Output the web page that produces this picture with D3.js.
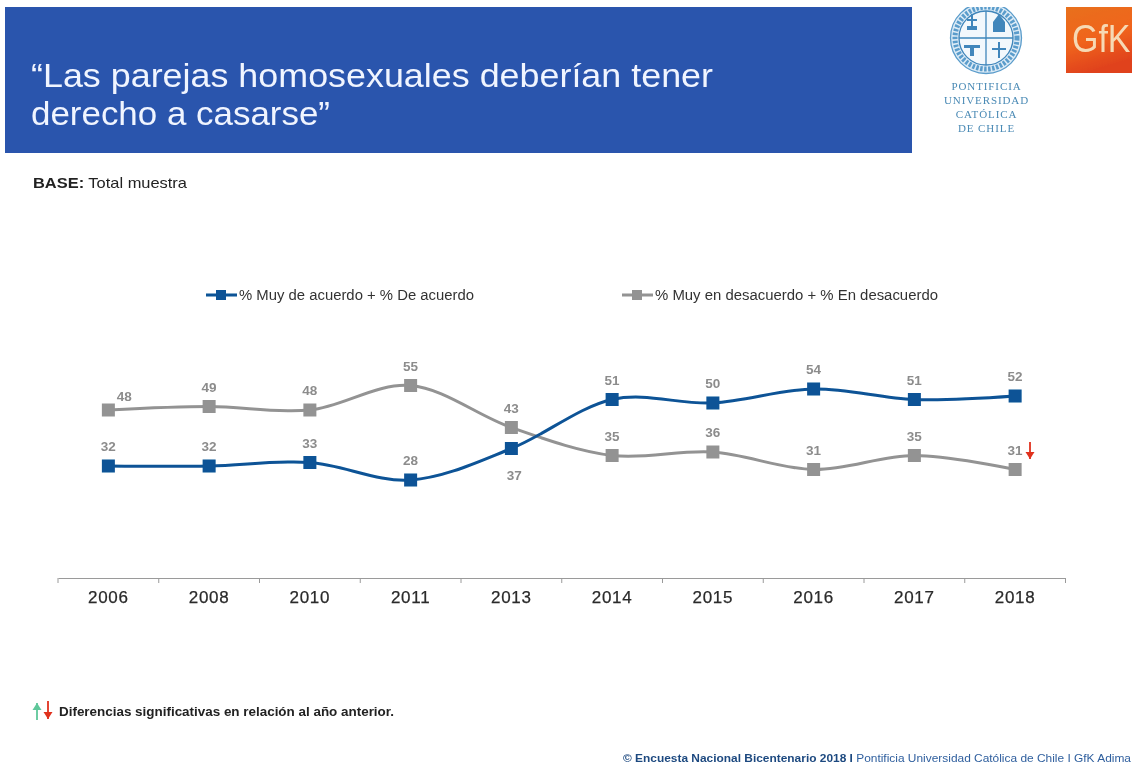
<!DOCTYPE html>
<html><head><meta charset="utf-8">
<script src="https://cdnjs.cloudflare.com/ajax/libs/d3/7.8.5/d3.min.js"></script>
<style>html,body{margin:0;padding:0;background:#fff;overflow:hidden}svg{display:block}text{font-family:"Liberation Sans",Arial,sans-serif}</style>
</head><body><svg id="c" width="1132" height="767"></svg>
<script>
const years=["2006","2008","2010","2011","2013","2014","2015","2016","2017","2018"];
const agree=[32,32,33,28,37,51,50,54,51,52];
const disagree=[48,49,48,55,43,35,36,31,35,31];
const agreeName="% Muy de acuerdo + % De acuerdo";
const disagreeName="% Muy en desacuerdo + % En desacuerdo";
const titleLines=["“Las parejas homosexuales deberían tener","derecho a casarse”"];
const logoLines=["PONTIFICIA","UNIVERSIDAD","CATÓLICA","DE CHILE"];
const blue="#0a5296",grey="#939393",labelGrey="#8c8c8c";

const svg0=d3.select("#c");
const defs=svg0.append("defs");
const g=defs.append("linearGradient").attr("id","gfk").attr("x1",0).attr("y1",0).attr("x2",.3).attr("y2",1);
g.append("stop").attr("offset",0).attr("stop-color","#e8701f");
g.append("stop").attr("offset",.55).attr("stop-color","#f0641a");
g.append("stop").attr("offset",1).attr("stop-color","#e0421a");
defs.append("filter").attr("id","soft").attr("filterUnits","userSpaceOnUse")
  .attr("x",0).attr("y",0).attr("width",1132).attr("height",767)
  .append("feGaussianBlur").attr("stdDeviation",.42);
const svg=svg0.append("g").attr("filter","url(#soft)");

// header
svg.append("rect").attr("x",5).attr("y",7).attr("width",907).attr("height",146).attr("fill","#2c54ad");
const titleLen=[682,299];
svg.append("g").selectAll("text").data(titleLines).join("text")
  .attr("x",31).attr("y",(d,i)=>87+i*37.5).attr("fill","#f0f5ff").attr("font-size",34)
  .attr("textLength",(d,i)=>titleLen[i]).attr("lengthAdjust","spacingAndGlyphs").text(d=>d);

// UC logo
const cx=986,cy=38,logoBlue="#5a9ccb",logoDark="#3f86bb";
const lg=svg.append("g");
lg.append("circle").attr("cx",cx).attr("cy",cy).attr("r",35.5).attr("fill","#dcebf6").attr("stroke",logoBlue).attr("stroke-width",1.3);
lg.append("circle").attr("cx",cx).attr("cy",cy).attr("r",31).attr("fill","none").attr("stroke",logoBlue).attr("stroke-width",5).attr("stroke-dasharray","2.5 1.5");
lg.append("circle").attr("cx",cx).attr("cy",cy).attr("r",27).attr("fill","#f2f8fc").attr("stroke",logoDark).attr("stroke-width",1.3);
lg.append("path").attr("d",`M${cx} ${cy-27}V${cy+27}M${cx-27} ${cy}H${cx+27}`).attr("stroke",logoDark).attr("stroke-width",1.3);
const quad=[[-14,-14],[13,-14],[-14,13],[13,13]];
lg.append("g").selectAll("path").data(quad).join("path")
  .attr("transform",d=>`translate(${cx+d[0]},${cy+d[1]})`)
  .attr("fill",logoDark)
  .attr("d",(d,i)=>["M-1-10h2v5h4v2h-4v5h4v4h-10v-4h4v-5h-4v-2h4z","M0-10l6 8v10h-12v-10z","M-8-6h16v3h-6v8h-4v-8h-6z","M-1-9h2v6h6v2h-6v8h-2v-8h-6v-2h6z"][i]);
svg.append("rect").attr("x",940).attr("y",0).attr("width",92).attr("height",7).attr("fill","#fff");
svg.append("g").selectAll("text").data(logoLines).join("text")
  .attr("x",986.5).attr("y",(d,i)=>89.5+i*14).attr("text-anchor","middle").attr("fill","#4a8ab5")
  .attr("font-size",11).attr("letter-spacing",.9).style("font-family","'Liberation Serif',serif").text(d=>d);

// GfK logo
svg.append("rect").attr("x",1066).attr("y",7).attr("width",66).attr("height",66).attr("fill","url(#gfk)");
svg.append("text").attr("transform","translate(1072,52) scale(1,1.12)").attr("font-size",34).attr("fill","#f6d9b4").text("GfK");

// base
const base=svg.append("text").attr("x",33).attr("y",188).attr("font-size",14.5).attr("fill","#222")
  .attr("textLength",154).attr("lengthAdjust","spacingAndGlyphs");
base.append("tspan").attr("font-weight","bold").text("BASE:");
base.append("tspan").text(" Total muestra");

// scales
const x=d3.scaleBand().domain(years).range([58,1065.5]);
const y=d3.scaleLinear().domain([0,60]).range([578,368]);
const px=(d)=>x(d)+x.bandwidth()/2;

// axis
const axis=svg.append("g").attr("transform","translate(0,578)")
  .call(d3.axisBottom(x).tickSize(0).tickPadding(13));
axis.select(".domain").attr("stroke","#9a9a9a").attr("stroke-width",1.2);
axis.selectAll("text").attr("font-size",17).attr("letter-spacing",.7).attr("fill","#2a2a2a")
  .attr("stroke","#2a2a2a").attr("stroke-width",.25).style("font-family","'Liberation Sans',Arial,sans-serif");
svg.append("g").selectAll("line").data(x.domain().map(d=>x(d)).concat([x.range()[1]])).join("line")
  .attr("x1",d=>d).attr("x2",d=>d).attr("y1",578).attr("y2",583).attr("stroke","#9a9a9a");

// series
const line=d3.line().x((d,i)=>px(years[i])).y(d=>y(d)).curve(d3.curveCardinal.tension(0));
const size=13;
function series(vals,color){
  const s=svg.append("g");
  s.append("path").datum(vals).attr("d",line).attr("fill","none").attr("stroke",color).attr("stroke-width",3);
  s.selectAll("rect").data(vals).join("rect")
    .attr("x",(d,i)=>px(years[i])-size/2).attr("y",d=>y(d)-size/2).attr("width",size).attr("height",size).attr("fill",color);
}
series(disagree,grey);
series(agree,blue);

// data labels
function labels(vals,dx,dy){
  svg.append("g").selectAll("text").data(vals).join("text")
    .attr("x",(d,i)=>px(years[i])+dx(i)).attr("y",(d,i)=>y(d)+dy(i))
    .attr("text-anchor","middle").attr("font-size",13.5).attr("font-weight","bold").attr("fill",labelGrey).text(d=>d);
}
labels(agree,i=>i===4?3:0,i=>i===4?31:-15);
labels(disagree,i=>i===0?16:0,i=>i===0?-9:-15);

// legend
function legend(x0,y0,color,name,len){
  svg.append("line").attr("x1",x0).attr("x2",x0+31).attr("y1",y0).attr("y2",y0).attr("stroke",color).attr("stroke-width",3);
  svg.append("rect").attr("x",x0+10).attr("y",y0-5).attr("width",10).attr("height",10).attr("fill",color);
  svg.append("text").attr("x",x0+33).attr("y",y0+5).attr("font-size",14).attr("fill","#333")
    .attr("textLength",len).attr("lengthAdjust","spacingAndGlyphs").text(name);
}
legend(206,295,blue,agreeName,235);
legend(622,295,grey,disagreeName,283);

// arrows
function arrow(xc,top,bot,color,up){
  const a=svg.append("g").attr("fill",color);
  a.append("rect").attr("x",xc-.9).attr("y",top).attr("width",1.8).attr("height",bot-top);
  a.append("path").attr("d",up?`M${xc-4.5} ${top+7}L${xc} ${top}L${xc+4.5} ${top+7}Z`:`M${xc-4.5} ${bot-7}L${xc} ${bot}L${xc+4.5} ${bot-7}Z`);
}
arrow(1030,442,459,"#e0301e",false);
arrow(37,703,720,"#5fc79a",true);
arrow(48,701,719,"#e0301e",false);

svg.append("text").attr("x",59).attr("y",716).attr("font-size",12).attr("font-weight","bold").attr("fill","#222")
  .attr("textLength",335).attr("lengthAdjust","spacingAndGlyphs").text("Diferencias significativas en relación al año anterior.");

const foot=svg.append("text").attr("x",623).attr("y",762).attr("font-size",11).attr("fill","#2f5f9e")
  .attr("textLength",508).attr("lengthAdjust","spacingAndGlyphs");
foot.append("tspan").attr("font-weight","bold").attr("fill","#1f4a80").text("© Encuesta Nacional Bicentenario 2018 I");
foot.append("tspan").text(" Pontificia Universidad Católica de Chile I GfK Adima");
</script></body></html>
